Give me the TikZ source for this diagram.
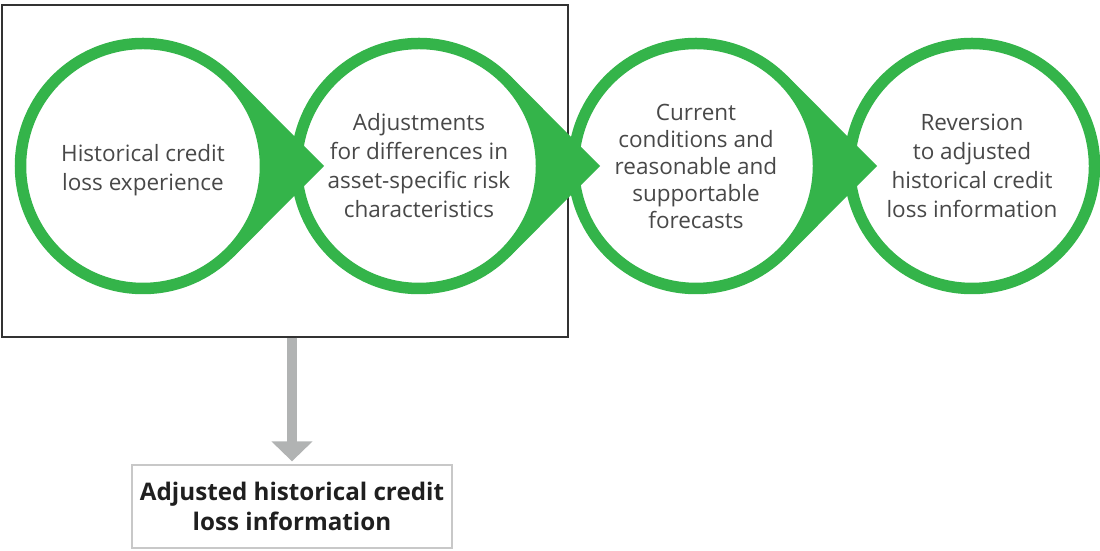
\documentclass[tikz,border=0pt]{standalone}
\usepackage{fontspec}
\setmainfont{Open Sans}
\usetikzlibrary{calc,arrows.meta}
\definecolor{dgreen}{RGB}{52,180,74}
\definecolor{txtgray}{RGB}{72,72,72}
\definecolor{arrgray}{RGB}{177,179,179}
\definecolor{boxgray}{RGB}{200,200,200}
\definecolor{framegray}{RGB}{50,50,50}
\begin{document}
\begin{tikzpicture}[x=1pt,y=1pt,
  ring/.style={circle, draw=dgreen, line width=11.5pt, fill=white,
    minimum size=245pt, inner sep=0pt, align=center, text=txtgray,
    font=\fontsize{22.5}{29}\selectfont},
  pointer/.style={fill=dgreen},
  frame/.style={draw=framegray, line width=1.3pt, minimum width=566pt, minimum height=332pt, inner sep=0pt},
  outbox/.style={draw=boxgray, line width=1.3pt, minimum width=320pt, minimum height=83pt,
    align=center, font=\fontsize{24.2}{30}\selectfont\bfseries, text=black!88},
  downarrow/.style={draw=arrgray, line width=10pt, -{Triangle[width=40pt,length=20pt]}, shorten >=3pt}
]
\useasboundingbox (0,0) rectangle (1100,551);
\node[frame] (frame) at (285,380) {};
\node[ring] (c1) at (143,385) {\rule{0pt}{26pt}Historical credit\\loss experience};
\node[ring] (c2) at (419,385) {Adjustments\\for differences in\\asset-specific risk\\characteristics};
\node[ring, font=\fontsize{22.5}{27}\selectfont] (c3) at (696,385) {Current\\conditions and\\reasonable and\\supportable\\forecasts};
\node[ring] (c4) at (972,385) {Reversion\\to adjusted\\historical credit\\loss information};
\foreach \c in {c1,c2,c3}{
  \fill[pointer] ($(\c.center)+(45:128.25)$) -- ($(\c.center)+(181,0)$)
    -- ($(\c.center)+(-45:128.25)$) -- ($(\c.center)+(-45:123)$)
    arc[start angle=-45,end angle=45,radius=123] -- cycle;
}
\node[outbox] (out) at (292,44.5) {Adjusted historical credit\\loss information};
\draw[downarrow] (frame.south -| out.north) -- (out.north);
\end{tikzpicture}
\end{document}
